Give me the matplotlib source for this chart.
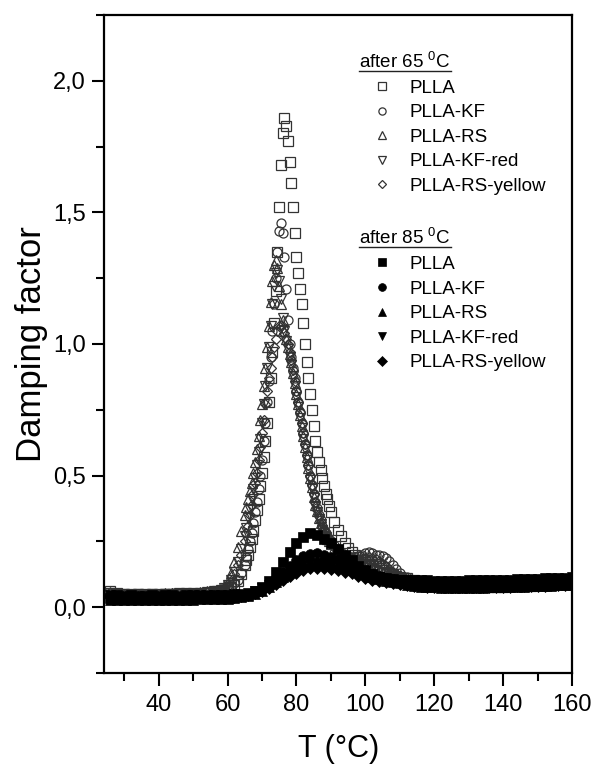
import numpy as np
import matplotlib
matplotlib.use("Agg")
import matplotlib.pyplot as plt
from matplotlib.ticker import MultipleLocator, FuncFormatter
from matplotlib.lines import Line2D

plt.rcParams['font.family'] = ['Liberation Sans', 'DejaVu Sans']
plt.rcParams['mathtext.fontset'] = 'custom'
plt.rcParams['mathtext.rm'] = 'Liberation Sans'
plt.rcParams['mathtext.it'] = 'Liberation Sans:italic'

# temperature grids (°C)
T_open = np.concatenate([np.arange(26, 57, 2), np.arange(57, 66, 1),
                         np.arange(65.5, 90.1, 0.5), np.arange(91, 111, 1),
                         np.arange(112, 161, 2)])
T_filled = np.arange(26, 161, 2)

labels = ['PLLA', 'PLLA-KF', 'PLLA-RS', 'PLLA-KF-red', 'PLLA-RS-yellow']
markers = ['s', 'o', '^', 'v', 'D']

# ---- after 65 °C (open symbols) ----
pla_65 = ([0.06, 0.055, 0.05, 0.05, 0.05, 0.045, 0.05, 0.05, 0.05, 0.05, 0.05, 0.05, 0.05, 0.05, 0.055, 0.055]
          + [0.055, 0.06, 0.06, 0.065, 0.075, 0.085, 0.1, 0.125, 0.16]
          + [0.18, 0.2, 0.23, 0.26, 0.29, 0.33, 0.37, 0.41, 0.46, 0.51,
             0.57, 0.63, 0.7, 0.78, 0.87, 0.97, 1.08, 1.2, 1.35, 1.52,
             1.68, 1.8, 1.86, 1.83, 1.77, 1.69, 1.61, 1.52, 1.42, 1.33,
             1.27, 1.21, 1.15, 1.08, 1.0, 0.93, 0.87, 0.81, 0.75, 0.69,
             0.63, 0.59, 0.55, 0.52, 0.49, 0.46, 0.43, 0.41, 0.385, 0.36]
          + [0.325, 0.295, 0.27, 0.245, 0.225, 0.21, 0.2, 0.19, 0.18, 0.17,
             0.165, 0.16, 0.155, 0.15, 0.14, 0.135, 0.13, 0.125, 0.12, 0.115]
          + [0.11, 0.105, 0.1, 0.095, 0.09, 0.088, 0.085, 0.083, 0.082, 0.08, 0.08, 0.078, 0.078,
             0.078, 0.078, 0.08, 0.08, 0.08, 0.082, 0.083, 0.085, 0.086, 0.088, 0.09, 0.092])

kf_65 = ([0.055, 0.05, 0.05, 0.048, 0.05, 0.05, 0.048, 0.05, 0.05, 0.05, 0.052, 0.05, 0.052, 0.055, 0.055, 0.058]
         + [0.06, 0.062, 0.065, 0.07, 0.08, 0.09, 0.105, 0.13, 0.16]
         + [0.19, 0.22, 0.25, 0.28, 0.32, 0.36, 0.4, 0.45, 0.5, 0.56,
            0.63, 0.7, 0.78, 0.86, 0.95, 1.05, 1.15, 1.25, 1.35, 1.43,
            1.46, 1.42, 1.33, 1.21, 1.09, 1.0, 0.95, 0.91, 0.87, 0.82,
            0.78, 0.74, 0.7, 0.66, 0.62, 0.58, 0.54, 0.5, 0.465, 0.43,
            0.4, 0.375, 0.35, 0.33, 0.31, 0.295, 0.28, 0.27, 0.26, 0.25]
         + [0.235, 0.22, 0.21, 0.2, 0.195, 0.19, 0.19, 0.195, 0.2, 0.205,
            0.21, 0.205, 0.2, 0.2, 0.195, 0.185, 0.175, 0.16, 0.145, 0.13]
         + [0.115, 0.105, 0.1, 0.095, 0.09, 0.088, 0.086, 0.085, 0.084, 0.082, 0.082, 0.08, 0.08,
            0.08, 0.08, 0.08, 0.082, 0.082, 0.083, 0.085, 0.086, 0.088, 0.09, 0.091, 0.093])

rs_65 = ([0.058, 0.052, 0.05, 0.05, 0.048, 0.05, 0.05, 0.05, 0.052, 0.05, 0.052, 0.055, 0.055, 0.058, 0.06, 0.062]
         + [0.065, 0.07, 0.08, 0.1, 0.13, 0.17, 0.23, 0.29, 0.35]
         + [0.38, 0.41, 0.44, 0.47, 0.51, 0.55, 0.6, 0.65, 0.71, 0.77,
            0.84, 0.91, 0.99, 1.07, 1.16, 1.24, 1.3, 1.32, 1.29, 1.22,
            1.15, 1.09, 1.05, 1.02, 0.99, 0.96, 0.93, 0.89, 0.85, 0.81,
            0.77, 0.73, 0.69, 0.65, 0.61, 0.57, 0.53, 0.49, 0.455, 0.42,
            0.39, 0.365, 0.34, 0.32, 0.3, 0.285, 0.27, 0.26, 0.25, 0.24]
         + [0.225, 0.21, 0.2, 0.19, 0.185, 0.18, 0.175, 0.17, 0.165, 0.16,
            0.155, 0.15, 0.145, 0.14, 0.135, 0.13, 0.125, 0.12, 0.115, 0.11]
         + [0.105, 0.1, 0.095, 0.09, 0.088, 0.085, 0.083, 0.082, 0.08, 0.08, 0.085, 0.095, 0.09,
            0.082, 0.08, 0.08, 0.08, 0.082, 0.083, 0.085, 0.086, 0.088, 0.09, 0.092, 0.094])

kfred_65 = ([0.055, 0.05, 0.05, 0.048, 0.05, 0.05, 0.05, 0.048, 0.05, 0.05, 0.052, 0.052, 0.055, 0.055, 0.058, 0.06]
            + [0.062, 0.066, 0.072, 0.085, 0.105, 0.135, 0.17, 0.22, 0.27]
            + [0.3, 0.34, 0.37, 0.41, 0.45, 0.49, 0.54, 0.59, 0.64, 0.7,
               0.77, 0.84, 0.91, 0.99, 1.07, 1.15, 1.22, 1.27, 1.28, 1.24,
               1.17, 1.1, 1.05, 1.01, 0.98, 0.95, 0.92, 0.88, 0.84, 0.8,
               0.76, 0.72, 0.68, 0.64, 0.6, 0.56, 0.52, 0.485, 0.45, 0.415,
               0.385, 0.36, 0.335, 0.315, 0.295, 0.28, 0.265, 0.255, 0.245, 0.235]
            + [0.22, 0.205, 0.195, 0.185, 0.18, 0.175, 0.17, 0.165, 0.16, 0.155,
               0.15, 0.145, 0.14, 0.135, 0.13, 0.125, 0.12, 0.115, 0.11, 0.108]
            + [0.104, 0.1, 0.095, 0.09, 0.087, 0.085, 0.083, 0.081, 0.08, 0.08, 0.08, 0.079, 0.079,
               0.08, 0.08, 0.08, 0.081, 0.082, 0.083, 0.085, 0.086, 0.088, 0.09, 0.091, 0.093])

rsy_65 = ([0.055, 0.05, 0.05, 0.05, 0.05, 0.048, 0.05, 0.05, 0.05, 0.052, 0.05, 0.052, 0.055, 0.055, 0.058, 0.06]
          + [0.062, 0.066, 0.072, 0.082, 0.1, 0.125, 0.16, 0.2, 0.25]
          + [0.28, 0.31, 0.35, 0.39, 0.43, 0.47, 0.51, 0.56, 0.61, 0.66,
             0.71, 0.77, 0.82, 0.87, 0.91, 0.95, 0.99, 1.02, 1.05, 1.07,
             1.07, 1.06, 1.04, 1.02, 1.0, 0.97, 0.94, 0.9, 0.86, 0.82,
             0.78, 0.74, 0.7, 0.66, 0.62, 0.58, 0.54, 0.5, 0.465, 0.43,
             0.4, 0.37, 0.345, 0.325, 0.305, 0.29, 0.275, 0.263, 0.252, 0.242]
          + [0.228, 0.215, 0.205, 0.197, 0.19, 0.185, 0.18, 0.178, 0.18, 0.185,
             0.19, 0.188, 0.182, 0.175, 0.165, 0.155, 0.145, 0.135, 0.125, 0.118]
          + [0.11, 0.105, 0.1, 0.095, 0.09, 0.088, 0.086, 0.084, 0.082, 0.081, 0.08, 0.08, 0.079,
             0.079, 0.08, 0.08, 0.081, 0.082, 0.083, 0.085, 0.087, 0.088, 0.09, 0.092, 0.094])

# ---- after 85 °C (filled symbols) ----
pla_85 = ([0.035, 0.033, 0.032, 0.033, 0.032, 0.033, 0.032, 0.033, 0.033, 0.032, 0.033, 0.033, 0.034, 0.033, 0.034, 0.035, 0.035, 0.036]
          + [0.038, 0.042, 0.048, 0.06, 0.077, 0.1, 0.133, 0.172, 0.21, 0.243, 0.267, 0.28, 0.274,
             0.26, 0.242, 0.222, 0.2, 0.178, 0.158, 0.141, 0.127, 0.116, 0.107, 0.1, 0.095]
          + [0.09, 0.087, 0.084, 0.082, 0.08, 0.079, 0.078, 0.077, 0.077, 0.077, 0.077, 0.078, 0.078,
             0.079, 0.08, 0.08, 0.081, 0.082, 0.083, 0.084, 0.085, 0.086, 0.087, 0.088, 0.09])

kf_85 = ([0.042, 0.04, 0.039, 0.04, 0.039, 0.04, 0.039, 0.039, 0.04, 0.04, 0.039, 0.04, 0.04, 0.041, 0.041, 0.042, 0.042, 0.042]
         + [0.043, 0.045, 0.05, 0.058, 0.07, 0.087, 0.108, 0.132, 0.157, 0.178, 0.193, 0.202, 0.204,
            0.2, 0.192, 0.182, 0.171, 0.159, 0.147, 0.136, 0.126, 0.118, 0.112, 0.107, 0.104]
         + [0.102, 0.1, 0.099, 0.098, 0.097, 0.097, 0.096, 0.096, 0.096, 0.096, 0.097, 0.097, 0.098,
            0.098, 0.099, 0.099, 0.1, 0.101, 0.102, 0.103, 0.104, 0.105, 0.106, 0.107, 0.109])

rs_85 = ([0.028, 0.027, 0.028, 0.027, 0.028, 0.028, 0.027, 0.028, 0.028, 0.029, 0.028, 0.029, 0.029, 0.03, 0.03, 0.031, 0.031, 0.032]
         + [0.034, 0.037, 0.042, 0.05, 0.061, 0.076, 0.094, 0.114, 0.135, 0.153, 0.167, 0.176, 0.18,
            0.178, 0.172, 0.164, 0.155, 0.145, 0.135, 0.125, 0.116, 0.108, 0.1, 0.094, 0.09]
         + [0.085, 0.081, 0.078, 0.076, 0.075, 0.074, 0.073, 0.073, 0.073, 0.073, 0.074, 0.074, 0.075,
            0.075, 0.076, 0.077, 0.077, 0.078, 0.079, 0.08, 0.081, 0.082, 0.083, 0.084, 0.085])

kfred_85 = ([0.047, 0.045, 0.044, 0.045, 0.044, 0.044, 0.045, 0.044, 0.045, 0.045, 0.044, 0.045, 0.046, 0.046, 0.046, 0.047, 0.047, 0.048]
            + [0.049, 0.051, 0.055, 0.062, 0.072, 0.085, 0.1, 0.117, 0.134, 0.149, 0.16, 0.166, 0.168,
               0.166, 0.162, 0.157, 0.15, 0.142, 0.134, 0.126, 0.119, 0.114, 0.11, 0.107, 0.105]
            + [0.104, 0.103, 0.102, 0.102, 0.101, 0.101, 0.101, 0.101, 0.101, 0.102, 0.102, 0.103, 0.103,
               0.104, 0.104, 0.105, 0.106, 0.106, 0.107, 0.108, 0.109, 0.11, 0.111, 0.112, 0.113])

rsy_85 = ([0.038, 0.036, 0.035, 0.035, 0.036, 0.035, 0.035, 0.036, 0.035, 0.036, 0.036, 0.036, 0.037, 0.037, 0.038, 0.038, 0.039, 0.039]
          + [0.04, 0.042, 0.046, 0.052, 0.061, 0.073, 0.087, 0.102, 0.117, 0.13, 0.14, 0.147, 0.15,
             0.149, 0.146, 0.141, 0.135, 0.128, 0.12, 0.112, 0.105, 0.099, 0.094, 0.09, 0.087]
          + [0.084, 0.082, 0.08, 0.078, 0.077, 0.076, 0.075, 0.075, 0.075, 0.075, 0.075, 0.076, 0.076,
             0.077, 0.077, 0.078, 0.079, 0.08, 0.08, 0.081, 0.082, 0.083, 0.084, 0.085, 0.086])

series_65 = [pla_65, kf_65, rs_65, kfred_65, rsy_65]
series_85 = [pla_85, kf_85, rs_85, kfred_85, rsy_85]

fig = plt.figure(figsize=(5.95, 7.67), dpi=100)
ax = fig.add_axes([0.175, 0.1226, 0.7866, 0.8579])

h65 = []
for y, m in zip(series_65, markers):
    ms = 5.5 if m == 'D' else 6.5
    l, = ax.plot(T_open, y, linestyle='none', marker=m, ms=ms, mfc='none',
                 mec='#333333', mew=0.9)
    h65.append(l)

h85 = []
for y, m in zip(series_85, markers):
    ms = 6 if m == 'D' else 7
    l, = ax.plot(T_filled, y, linestyle='none', marker=m, ms=ms, mfc='black',
                 mec='black', mew=0.5)
    h85.append(l)

ax.set_xlim(24.2, 160)
ax.set_ylim(-0.25, 2.25)
ax.xaxis.set_major_locator(MultipleLocator(20))
ax.xaxis.set_minor_locator(MultipleLocator(10))
ax.yaxis.set_major_locator(MultipleLocator(0.5))
ax.yaxis.set_minor_locator(MultipleLocator(0.25))
ax.yaxis.set_major_formatter(FuncFormatter(lambda v, p: f"{v:.1f}".replace('.', ',')))
ax.set_xticks([40, 60, 80, 100, 120, 140, 160])

for s in ax.spines.values():
    s.set_linewidth(1.6)
ax.tick_params(which='major', direction='out', length=9, width=1.5, labelsize=17)
ax.tick_params(which='minor', direction='out', length=6, width=1.5)
ax.tick_params(axis='x', which='major', pad=6)
ax.tick_params(axis='y', which='major', pad=4)

ax.set_xlabel('T (°C)', fontsize=22, labelpad=13)
ax.set_ylabel('Damping factor', fontsize=25, labelpad=4)

leg_kw = dict(loc='upper left', frameon=False, fontsize=13.5, title_fontsize=13.5,
              handlelength=2.4, handletextpad=0.3, labelspacing=0.4, borderpad=0,
              borderaxespad=0, alignment='left', numpoints=1, markerscale=0.8)
leg1 = ax.legend(h65, labels, title='after 65 $^0$C', bbox_to_anchor=(0.545, 0.944), **leg_kw)
ax.add_artist(leg1)
leg2 = ax.legend(h85, labels, title='after 85 $^0$C', bbox_to_anchor=(0.545, 0.676), **leg_kw)

# underline the legend titles
fig.canvas.draw()
inv = fig.transFigure.inverted()
for leg in (leg1, leg2):
    bb = leg.get_title().get_window_extent()
    (x0, y0), (x1, _) = inv.transform([(bb.x0, bb.y0 + 1), (bb.x1, bb.y0 + 1)])
    fig.add_artist(Line2D([x0, x1], [y0, y0], transform=fig.transFigure,
                          color='#222222', lw=1.0))

fig.savefig('out.png', dpi=100)
